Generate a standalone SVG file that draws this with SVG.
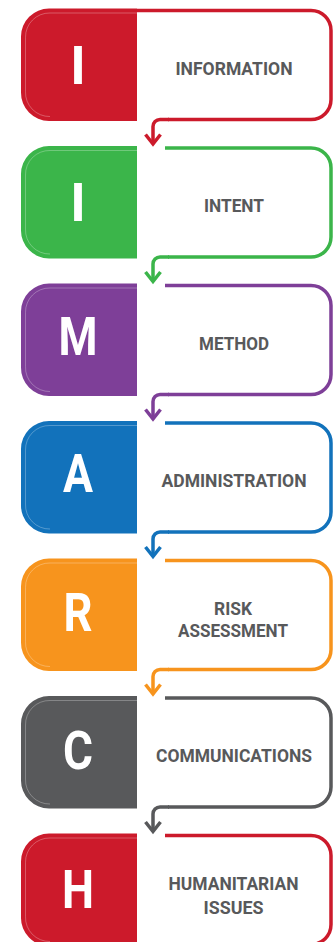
<svg xmlns="http://www.w3.org/2000/svg" width="333" height="942" viewBox="0 0 333 942">
<style>
.box{stroke:none}
.hl{fill:none;stroke:#ffffff;stroke-opacity:0.35;stroke-width:0.8}
.ol{fill:none;stroke-width:3.5;stroke-linecap:butt}
.cn{fill:none;stroke-width:3.5;stroke-linejoin:miter;stroke-miterlimit:10}
.big{font-family:Roboto,"Liberation Sans",sans-serif;font-weight:700;font-size:53px;fill:#ffffff;text-anchor:middle}
.lab{font-family:Roboto,"Liberation Sans",sans-serif;font-weight:700;font-size:18px;fill:#58595b;text-anchor:middle}
</style>
<rect width="333" height="942" fill="#ffffff"/>

<g id="node-information" transform="translate(0,8.5)">
<path class="box" fill="#cc1a2b" d="M137,0 H49 A28,28 0 0 0 21,28 V84 A28,28 0 0 0 49,112.5 H137 Z"/>
<path class="hl" d="M137,4.5 H50 A24,24 0 0 0 25.5,29 V83 A24,24 0 0 0 50,108"/>
<path class="ol" stroke="#cc1a2b" d="M137,2 H311 A20,20 0 0 1 331,22 V91 A20,20 0 0 1 311,111 H168"/>
<text class="big" x="78" y="75.5">I</text>
<text class="lab" x="234" y="66" textLength="117" lengthAdjust="spacingAndGlyphs">INFORMATION</text>
</g>

<g id="node-intent" transform="translate(0,146)">
<path class="box" fill="#3bb54a" d="M137,0 H49 A28,28 0 0 0 21,28 V84 A28,28 0 0 0 49,112.5 H137 Z"/>
<path class="hl" d="M137,4.5 H50 A24,24 0 0 0 25.5,29 V83 A24,24 0 0 0 50,108"/>
<path class="ol" stroke="#3bb54a" d="M165,2 H311 A20,20 0 0 1 331,22 V91 A20,20 0 0 1 311,111 H168"/>
<text class="big" x="78" y="75">I</text>
<text class="lab" x="234" y="66" textLength="60" lengthAdjust="spacingAndGlyphs">INTENT</text>
</g>

<g id="node-method" transform="translate(0,283.5)">
<path class="box" fill="#7e3f98" d="M137,0 H49 A28,28 0 0 0 21,28 V84 A28,28 0 0 0 49,112.5 H137 Z"/>
<path class="hl" d="M137,4.5 H50 A24,24 0 0 0 25.5,29 V83 A24,24 0 0 0 50,108"/>
<path class="ol" stroke="#7e3f98" d="M165,2 H311 A20,20 0 0 1 331,22 V91 A20,20 0 0 1 311,111 H168"/>
<text class="big" x="78" y="71" textLength="39" lengthAdjust="spacingAndGlyphs">M</text>
<text class="lab" x="234" y="66" textLength="70" lengthAdjust="spacingAndGlyphs">METHOD</text>
</g>

<g id="node-administration" transform="translate(0,421)">
<path class="box" fill="#1272bb" d="M137,0 H49 A28,28 0 0 0 21,28 V84 A28,28 0 0 0 49,112.5 H137 Z"/>
<path class="hl" d="M137,4.5 H50 A24,24 0 0 0 25.5,29 V83 A24,24 0 0 0 50,108"/>
<path class="ol" stroke="#1272bb" d="M165,2 H311 A20,20 0 0 1 331,22 V91 A20,20 0 0 1 311,111 H168"/>
<text class="big" x="78" y="71" textLength="30" lengthAdjust="spacingAndGlyphs">A</text>
<text class="lab" x="234" y="66" textLength="145" lengthAdjust="spacingAndGlyphs">ADMINISTRATION</text>
</g>

<g id="node-risk" transform="translate(0,558.5)">
<path class="box" fill="#f7941d" d="M137,0 H49 A28,28 0 0 0 21,28 V84 A28,28 0 0 0 49,112.5 H137 Z"/>
<path class="hl" d="M137,4.5 H50 A24,24 0 0 0 25.5,29 V83 A24,24 0 0 0 50,108"/>
<path class="ol" stroke="#f7941d" d="M165,2 H311 A20,20 0 0 1 331,22 V91 A20,20 0 0 1 311,111 H168"/>
<text class="big" x="78" y="72" textLength="29" lengthAdjust="spacingAndGlyphs">R</text>
<text class="lab" x="233" y="56.5" textLength="38" lengthAdjust="spacingAndGlyphs">RISK</text>
<text class="lab" x="233" y="78" textLength="110" lengthAdjust="spacingAndGlyphs">ASSESSMENT</text>
</g>

<g id="node-communications" transform="translate(0,696)">
<path class="box" fill="#58595b" d="M137,0 H49 A28,28 0 0 0 21,28 V84 A28,28 0 0 0 49,112.5 H137 Z"/>
<path class="hl" d="M137,4.5 H50 A24,24 0 0 0 25.5,29 V83 A24,24 0 0 0 50,108"/>
<path class="ol" stroke="#58595b" d="M165,2 H311 A20,20 0 0 1 331,22 V91 A20,20 0 0 1 311,111 H168"/>
<text class="big" x="78" y="73" textLength="30" lengthAdjust="spacingAndGlyphs">C</text>
<text class="lab" x="234" y="66" textLength="156" lengthAdjust="spacingAndGlyphs">COMMUNICATIONS</text>
</g>

<g id="node-humanitarian" transform="translate(0,833.5)">
<path class="box" fill="#cc1a2b" d="M137,0 H49 A28,28 0 0 0 21,28 V84 A28,28 0 0 0 49,112.5 H137 Z"/>
<path class="hl" d="M137,4.5 H50 A24,24 0 0 0 25.5,29 V83 A24,24 0 0 0 50,108"/>
<path class="ol" stroke="#cc1a2b" d="M165,2 H311 A20,20 0 0 1 331,22 V91 A20,20 0 0 1 311,111 H168"/>
<text class="big" x="78" y="74.5" textLength="32" lengthAdjust="spacingAndGlyphs">H</text>
<text class="lab" x="233.5" y="56.5" textLength="130" lengthAdjust="spacingAndGlyphs">HUMANITARIAN</text>
<text class="lab" x="233.5" y="80" textLength="60" lengthAdjust="spacingAndGlyphs">ISSUES</text>
</g>

<g id="connectors">
<g transform="translate(0,8.5)" stroke="#cc1a2b">
<path class="cn" d="M169,111 H160 A7,7 0 0 0 153,118 V135"/>
<polyline class="cn" points="145.5,126 153,135.5 160.5,126"/>
</g>
<g transform="translate(0,146)" stroke="#3bb54a">
<path class="cn" d="M169,111 H160 A7,7 0 0 0 153,118 V135"/>
<polyline class="cn" points="145.5,126 153,135.5 160.5,126"/>
</g>
<g transform="translate(0,283.5)" stroke="#7e3f98">
<path class="cn" d="M169,111 H160 A7,7 0 0 0 153,118 V135"/>
<polyline class="cn" points="145.5,126 153,135.5 160.5,126"/>
</g>
<g transform="translate(0,421)" stroke="#1272bb">
<path class="cn" d="M169,111 H160 A7,7 0 0 0 153,118 V135"/>
<polyline class="cn" points="145.5,126 153,135.5 160.5,126"/>
</g>
<g transform="translate(0,558.5)" stroke="#f7941d">
<path class="cn" d="M169,111 H160 A7,7 0 0 0 153,118 V135"/>
<polyline class="cn" points="145.5,126 153,135.5 160.5,126"/>
</g>
<g transform="translate(0,696)" stroke="#58595b">
<path class="cn" d="M169,111 H160 A7,7 0 0 0 153,118 V135"/>
<polyline class="cn" points="145.5,126 153,135.5 160.5,126"/>
</g>
</g>
</svg>
